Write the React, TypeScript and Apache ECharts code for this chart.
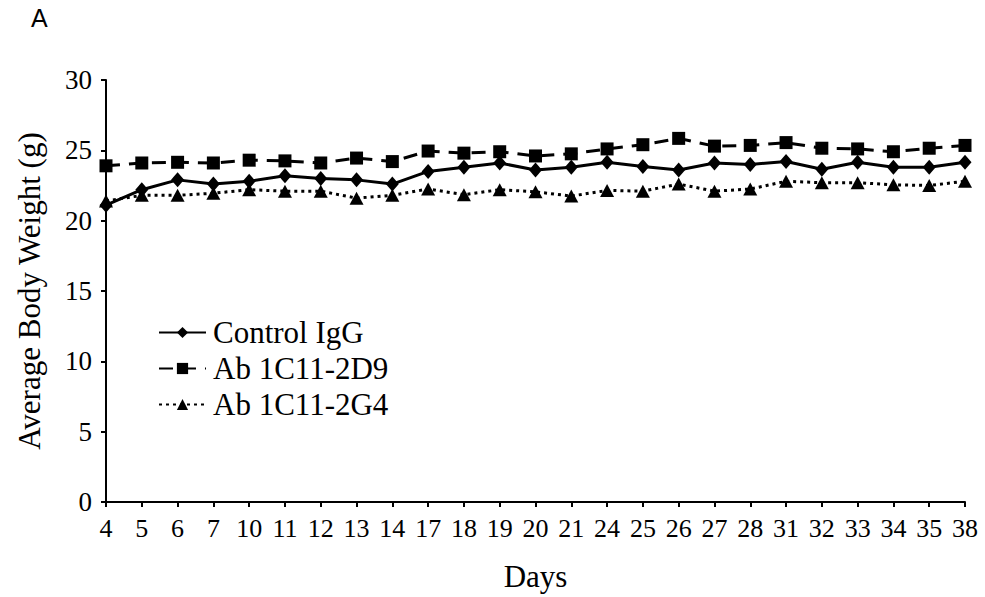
import React, { useEffect, useRef } from "react";
import * as echarts from "echarts";

const days = ["4","5","6","7","10","11","12","13","14","17","18","19","20","21","24","25","26","27","28","31","32","33","34","35","38"];
const controlIgG = [21.1, 22.2, 22.9, 22.6, 22.8, 23.2, 23.0, 22.9, 22.6, 23.5, 23.8, 24.1, 23.6, 23.8, 24.15, 23.85, 23.6, 24.1, 24.0, 24.2, 23.65, 24.15, 23.8, 23.8, 24.15];
const ab2D9 = [23.9, 24.1, 24.15, 24.1, 24.3, 24.25, 24.1, 24.45, 24.2, 24.95, 24.8, 24.9, 24.6, 24.75, 25.1, 25.4, 25.85, 25.3, 25.35, 25.55, 25.15, 25.1, 24.9, 25.15, 25.35];
const ab2G4 = [21.4, 21.8, 21.8, 21.95, 22.2, 22.1, 22.1, 21.6, 21.8, 22.25, 21.85, 22.2, 22.05, 21.75, 22.15, 22.1, 22.6, 22.1, 22.25, 22.8, 22.7, 22.7, 22.55, 22.5, 22.8];
const seriesNames = ["Control IgG", "Ab 1C11-2D9", "Ab 1C11-2G4"];
const yTicks = { min: 0, max: 30, interval: 5 };

const serif = "Liberation Serif";

export default function App() {
  const ref = useRef<HTMLDivElement>(null);
  useEffect(() => {
    document.body.style.margin = "0";
    const chart = echarts.init(ref.current!, null, { renderer: "svg" });
    chart.setOption({
      animation: false,
      backgroundColor: "#ffffff",
      textStyle: { fontFamily: serif, color: "#000" },
      title: {
        text: "A",
        left: 31,
        top: 5,
        padding: 0,
        textStyle: { fontFamily: "Liberation Sans", fontSize: 25, fontWeight: "normal", color: "#000" },
      },
      legend: {
        orient: "vertical",
        left: 153,
        top: 312,
        itemWidth: 47,
        itemHeight: 14,
        itemGap: 5,
        data: seriesNames,
        textStyle: { fontFamily: serif, fontSize: 31, color: "#000", padding: [0, 0, 0, 2] },
      },
      grid: { left: 106, right: 20, top: 80, bottom: 95, containLabel: false },
      xAxis: {
        type: "category",
        data: days,
        boundaryGap: false,
        name: "Days",
        nameLocation: "middle",
        nameGap: 59,
        nameTextStyle: { fontFamily: serif, fontSize: 31, color: "#000" },
        axisLine: { lineStyle: { color: "#000", width: 2 } },
        axisTick: { show: true, length: 5, lineStyle: { color: "#000", width: 2 } },
        axisLabel: { fontFamily: serif, fontSize: 26, color: "#000", margin: 13, interval: 0 },
        splitLine: { show: false },
      },
      yAxis: {
        type: "value",
        min: yTicks.min,
        max: yTicks.max,
        interval: yTicks.interval,
        name: "Average Body Weight (g)",
        nameLocation: "middle",
        nameGap: 61,
        nameTextStyle: { fontFamily: serif, fontSize: 31, color: "#000" },
        axisLine: { show: true, lineStyle: { color: "#000", width: 2 } },
        axisTick: { show: true, length: 5, lineStyle: { color: "#000", width: 2 } },
        axisLabel: { fontFamily: serif, fontSize: 27, color: "#000", margin: 14 },
        splitLine: { show: false },
      },
      series: [
        {
          name: seriesNames[0],
          type: "line",
          data: controlIgG,
          symbol: "diamond",
          symbolSize: [13, 15],
          itemStyle: { color: "#000" },
          lineStyle: { color: "#000", width: 3, type: "solid" },
          z: 3,
        },
        {
          name: seriesNames[1],
          type: "line",
          data: ab2D9,
          symbol: "rect",
          symbolSize: 13,
          itemStyle: { color: "#000" },
          lineStyle: { color: "#000", width: 3, type: [14, 9] },
          z: 2,
        },
        {
          name: seriesNames[2],
          type: "line",
          data: ab2G4,
          symbol: "triangle",
          symbolSize: [14, 13],
          itemStyle: { color: "#000" },
          lineStyle: { color: "#000", width: 3, type: [3, 4] },
          z: 2,
        },
      ],
    });
    return () => chart.dispose();
  }, []);
  return <div ref={ref} style={{ width: 985, height: 597 }} />;
}
